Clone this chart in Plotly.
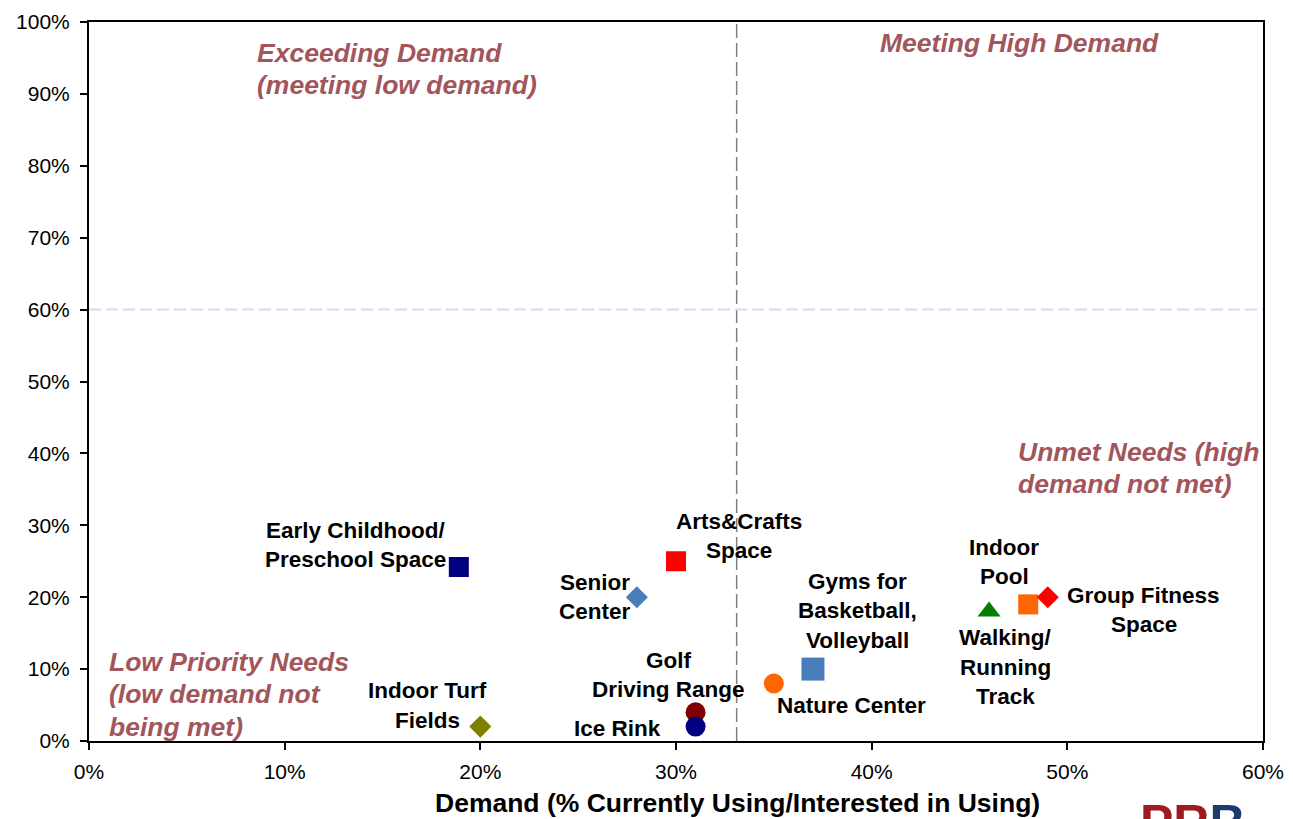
import plotly.graph_objects as go

# ---------------- data ----------------
facilities = ["Early Childhood/<br>Preschool Space", "Arts&Crafts<br>Space", "Senior<br>Center",
              "Golf<br>Driving Range", "Ice Rink", "Indoor Turf<br>Fields", "Nature Center",
              "Gyms for<br>Basketball,<br>Volleyball", "Walking/<br>Running<br>Track",
              "Indoor<br>Pool", "Group Fitness<br>Space"]
demand = [18.9, 30, 28, 31, 31, 20, 35, 37, 46, 48, 49]
need_met = [24.2, 25, 20, 4, 2, 2, 8, 10, 18, 19, 20]

x_ticks = [0, 10, 20, 30, 40, 50, 60]
x_tick_labels = ["0%", "10%", "20%", "30%", "40%", "50%", "60%"]
y_ticks = [0, 10, 20, 30, 40, 50, 60, 70, 80, 90, 100]
y_tick_labels = ["0%", "10%", "20%", "30%", "40%", "50%", "60%", "70%", "80%", "90%", "100%"]

demand_threshold = 33.1
met_threshold = 60

quadrants = ["Exceeding Demand<br>(meeting low demand)", "Meeting High Demand",
             "Unmet Needs (high<br>demand not met)", "Low Priority Needs<br>(low demand not<br>being met)"]
quad_x = [8.5, 40.3, 47.4, 0.9]
quad_y = [95.7, 97.1, 40.2, 11.0]

x_title = "Demand (% Currently Using/Interested in Using)"

# ---------------- style ----------------
symbols = ["square", "square", "diamond", "circle", "circle", "diamond", "circle",
           "square", "triangle-up", "square", "diamond"]
colors = ["#000080", "#FF0000", "#4A7EBB", "#800000", "#000080", "#808000", "#FF6600",
          "#4A7EBB", "#008000", "#FF6600", "#FF0000"]
sizes = [20, 20, 17, 20, 20, 17, 20, 23, 20, 20, 17]
# label offsets in px: (x shift of text centre, y shift of first line centre; up positive)
label_dx = [-103, 63, -42, -27, -78, -53, 78, 45, 16, -24, 96]
label_dy = [37, 40, 15, 52, -2, 36, -22, 88, -26, 57, 2]
LINE_GAP = 29.5
QUAD_GAP = 32.5
QUAD_COLOR = "#A3555C"
FONT = "Liberation Sans, Arial, sans-serif"

fig = go.Figure()
for i in range(len(facilities)):
    fig.add_trace(go.Scatter(
        x=[demand[i]], y=[need_met[i]], mode="markers",
        marker=dict(symbol=symbols[i], color=colors[i], size=sizes[i], line=dict(width=0)),
        showlegend=False, hoverinfo="skip"))

annotations = []
for i, lab in enumerate(facilities):
    for j, line in enumerate(lab.split("<br>")):
        annotations.append(dict(
            x=demand[i], y=need_met[i], xref="x", yref="y", text="<b>" + line + "</b>",
            showarrow=False, xanchor="center", yanchor="middle",
            xshift=label_dx[i], yshift=label_dy[i] - j * LINE_GAP,
            font=dict(family=FONT, size=22.5, color="black")))

for i, q in enumerate(quadrants):
    for j, line in enumerate(q.split("<br>")):
        annotations.append(dict(
            x=quad_x[i], y=quad_y[i], xref="x", yref="y", text="<b><i>" + line + "</i></b>",
            showarrow=False, xanchor="left", yanchor="middle", yshift=-j * QUAD_GAP,
            font=dict(family=FONT, size=26.5, color=QUAD_COLOR)))

# x axis title (sits right of the plot centre in the reference)
annotations.append(dict(
    x=0.552, y=-0.086, xref="paper", yref="paper", xanchor="center", yanchor="middle",
    showarrow=False, text="<b>" + x_title + "</b>",
    font=dict(family=FONT, size=26.5, color="black")))

# logo (partially cut by the page edge, as in the reference)
annotations.append(dict(
    x=0.8935, y=-0.072, xref="paper", yref="paper", xanchor="left", yanchor="top", showarrow=False,
    text="<b><span style='color:#9E1B20'>PR</span><span style='color:#1F3B6E'>B</span></b>",
    font=dict(family=FONT, size=50)))

shapes = [
    dict(type="line", xref="x", yref="paper", x0=demand_threshold, x1=demand_threshold, y0=0, y1=1,
         line=dict(color="#808080", width=1.5, dash="14px,5px")),
    dict(type="line", xref="paper", yref="y", x0=0, x1=1, y0=met_threshold, y1=met_threshold,
         line=dict(color="#CCE0F8", width=2, dash="12px,5px")),
]

# page body has an 8px margin, so margins are compensated
fig.update_layout(
    width=1293, height=819,
    margin=dict(l=81, r=38, t=14, b=86),
    paper_bgcolor="white", plot_bgcolor="white",
    annotations=annotations, shapes=shapes,
    font=dict(family=FONT, color="black"),
)
fig.update_xaxes(
    range=[0, 60], tickvals=x_ticks, ticktext=x_tick_labels, showgrid=False, zeroline=False,
    showline=True, linecolor="black", linewidth=2, mirror=True, automargin=False,
    ticks="outside", ticklen=7, tickcolor="black", tickwidth=1.5, ticklabelstandoff=4,
    tickfont=dict(size=21, family=FONT, color="black"),
)
fig.update_yaxes(
    range=[0, 100], tickvals=y_ticks, ticktext=y_tick_labels, showgrid=False, zeroline=False,
    showline=True, linecolor="black", linewidth=2, mirror=True, automargin=False,
    ticks="outside", ticklen=7, tickcolor="black", tickwidth=1.5, ticklabelstandoff=6,
    tickfont=dict(size=21, family=FONT, color="black"),
)

fig.write_html("out.html")
